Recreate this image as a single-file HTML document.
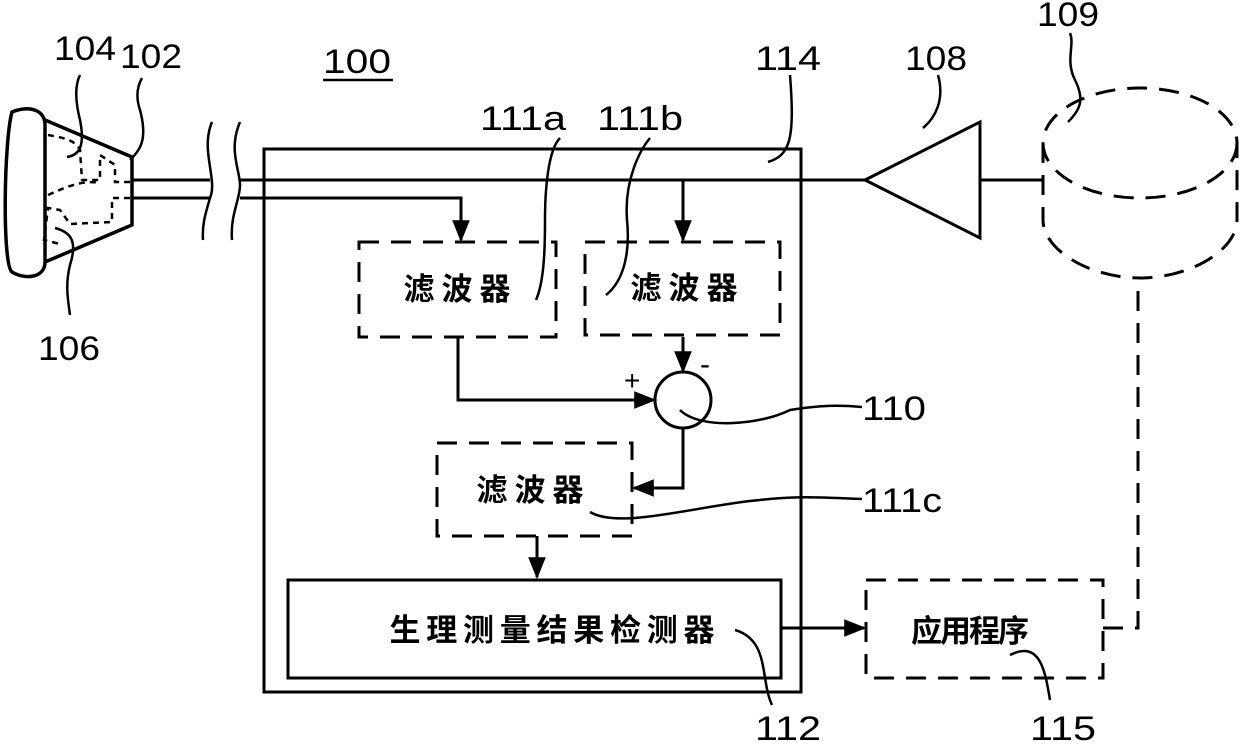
<!DOCTYPE html>
<html><head><meta charset="utf-8"><style>
html,body{margin:0;padding:0;background:#fff;width:1240px;height:744px;overflow:hidden}
svg text{font-family:"Liberation Sans",sans-serif;fill:#000}
.cn{font-family:"Liberation Sans","Noto Sans CJK SC",sans-serif;font-weight:bold}
</style></head><body>
<svg width="1240" height="744" viewBox="0 0 1240 744" xmlns="http://www.w3.org/2000/svg">
<defs>
<marker id="b" viewBox="0 0 10 10" refX="9" refY="5" markerWidth="22" markerHeight="22" orient="auto" markerUnits="userSpaceOnUse"><path d="M0,1 L10,5 L0,9z" fill="#000"/></marker></defs>
<g fill="none" stroke="#000" stroke-width="3">
<path d="M12,112 C30,105 45,110 45,125 L45,262 C45,278 25,280 12,272 C2,265 4,140 12,112 Z" stroke-width="3.5"/>
<path d="M45,120 L132,157 L132,225 L45,262" stroke-width="3.5"/>
<g stroke-dasharray="6,5" stroke-width="2.5">
<path d="M48,135 C65,138 75,140 80,150 L82,180 L100,180 L100,155 L115,165 L115,182 L130,182"/>
<path d="M48,195 C70,185 85,180 100,183"/>
<path d="M130,198 L112,198 L112,222 L70,224 L60,210 L48,208 L44,240 L60,244"/>
</g>
<path d="M67,157 C80,155 85,145 80,120 C75,100 75,85 80,75" stroke-width="2.5"/>
<path d="M130,160 C140,150 148,140 140,110 C135,95 138,85 142,78" stroke-width="2.5"/>
<path d="M55,228 C70,232 78,240 70,265 C65,285 68,300 70,315" stroke-width="2.5"/>
<path d="M132,180 L210,180 M132,198 L210,198 M240,180 L865,180 M240,198 L461,198 L461,240" marker-end="url(#b)"/>
<path d="M212,122 C200,150 218,180 210,198 C205,215 202,225 203,240 M240,122 C228,150 240,170 240,185 C240,200 230,215 232,240" stroke-width="2.5"/>
<rect x="264" y="149" width="537" height="543"/>
<g stroke-dasharray="20,12">
<rect x="359" y="242" width="197" height="95"/>
<rect x="585" y="242" width="195" height="93"/>
<rect x="437" y="443" width="195" height="93"/>
<rect x="866" y="580" width="237" height="98"/>
<path d="M1103,628 L1138,628 L1138,285"/>
<ellipse cx="1140" cy="143" rx="97" ry="55"/>
<path d="M1043,143 L1043,220 C1043,250 1090,278 1140,278 C1190,278 1237,250 1237,220 L1237,143"/>
</g>
<path d="M683,180 L683,240" marker-end="url(#b)"/>
<circle cx="683" cy="400" r="28"/>
<path d="M683,337 L683,371" marker-end="url(#b)"/>
<path d="M458,337 L458,400 L654,400" marker-end="url(#b)"/>
<path d="M683,428 L683,488 L634,488" marker-end="url(#b)"/>
<path d="M537,536 L537,577" marker-end="url(#b)"/>
<rect x="288" y="580" width="493" height="98"/>
<path d="M781,628 L864,628" marker-end="url(#b)"/>
<path d="M865,180 L980,122 L980,238 Z M980,180 L1043,180"/>
<g stroke-width="2.5">
<path d="M606,295 C625,280 630,250 627,220 C624,180 640,150 650,138"/>
<path d="M768,162 C790,155 795,140 790,75"/>
<path d="M923,128 C935,118 945,100 938,75"/>
<path d="M1068,122 C1080,110 1085,100 1075,80 C1065,60 1075,45 1070,33"/>
<path d="M536,300 C545,280 545,240 545,220 C545,190 548,150 560,138"/>
<path d="M680,410 C700,430 760,425 790,410 C820,405 840,405 862,407"/>
<path d="M590,512 C620,530 700,505 760,500 C800,495 830,498 862,499"/>
<path d="M735,630 C770,640 760,680 772,705"/>
<path d="M1010,655 C1040,640 1045,670 1050,700"/>
</g>
</g>
<line x1="323" y1="80" x2="393" y2="80" stroke="#000" stroke-width="2.5"/>
<g font-size="34">
<text x="323" y="73" textLength="68" lengthAdjust="spacingAndGlyphs">100</text>
<text x="755" y="70" textLength="66" lengthAdjust="spacingAndGlyphs">114</text>
<text x="905" y="70" textLength="62" lengthAdjust="spacingAndGlyphs">108</text>
<text x="1037" y="26" textLength="62" lengthAdjust="spacingAndGlyphs">109</text>
<text x="480" y="130" textLength="86" lengthAdjust="spacingAndGlyphs">111a</text>
<text x="597" y="130" textLength="86" lengthAdjust="spacingAndGlyphs">111b</text>
<text x="862" y="420" textLength="64" lengthAdjust="spacingAndGlyphs">110</text>
<text x="862" y="512" textLength="80" lengthAdjust="spacingAndGlyphs">111c</text>
<text x="755" y="740" textLength="66" lengthAdjust="spacingAndGlyphs">112</text>
<text x="1030" y="740" textLength="66" lengthAdjust="spacingAndGlyphs">115</text>
<text x="54" y="60" textLength="62" lengthAdjust="spacingAndGlyphs">104</text>
<text x="120" y="68" textLength="62" lengthAdjust="spacingAndGlyphs">102</text>
<text x="38" y="360" textLength="62" lengthAdjust="spacingAndGlyphs">106</text>
</g>
<text x="624" y="390" font-size="28">+</text>
<text x="700" y="374" font-size="30">-</text>
<g font-size="31" text-anchor="middle">
<text x="457" y="300" class="cn" textLength="107" lengthAdjust="spacing">滤波器</text>
<text x="684" y="299" class="cn" textLength="107" lengthAdjust="spacing">滤波器</text>
<text x="530" y="501" class="cn" textLength="107" lengthAdjust="spacing">滤波器</text>
<text x="552" y="641" class="cn" textLength="325" lengthAdjust="spacing">生理测量结果检测器</text>
<text x="970" y="642" class="cn" textLength="118" lengthAdjust="spacing">应用程序</text>
</g>
</svg>
</body></html>
